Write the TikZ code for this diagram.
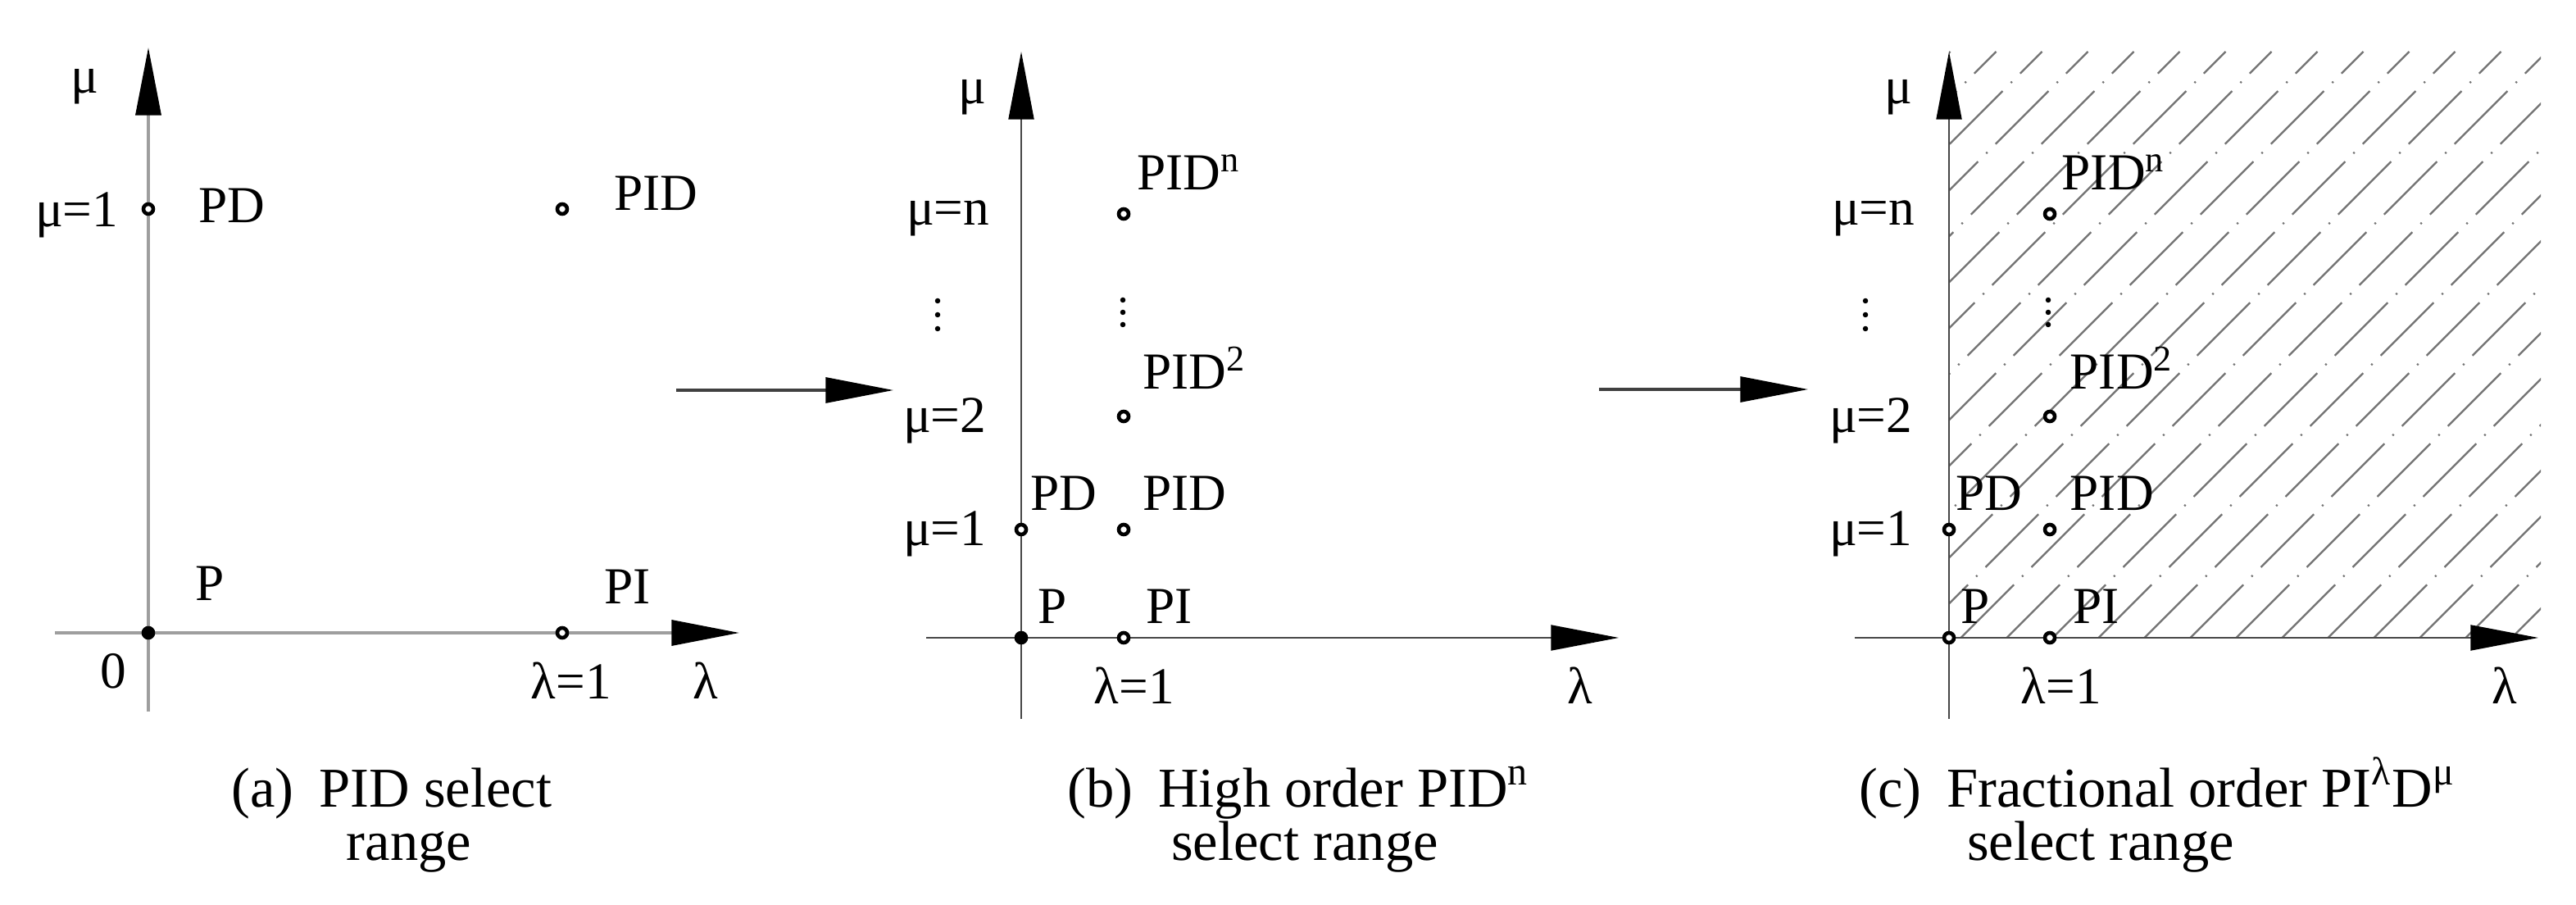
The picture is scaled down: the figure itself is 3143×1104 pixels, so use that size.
\documentclass[tikz,border=0pt]{standalone}
\usepackage{fontspec}
\setmainfont{Liberation Serif}
\usetikzlibrary{arrows.meta}
\begin{document}
\begin{tikzpicture}[x=0.01cm,y=-0.01cm,
  lbl/.style={inner sep=0pt, text=black, font=\fontsize{18}{20}\selectfont},
  captxt/.style={inner sep=0pt, text=black, font=\fontsize{19.5}{22}\selectfont},
  tipstyle/.style={-{Triangle[length=23.5pt,width=8.8pt,color=black]}},
  axA/.style={draw=black!38, line width=1pt, tipstyle},
  axB/.style={draw=black!72, line width=0.6pt, tipstyle},
  flow/.style={draw=black!75, line width=0.9pt, tipstyle},
  opt/.style={circle, draw=black, fill=white, line width=1.3pt, minimum size=0.12cm, inner sep=0pt},
  fpt/.style={opt, fill=black},
  vdot/.style={circle, fill=black, minimum size=0.065cm, inner sep=0pt},
  hatch/.style={draw=black!55, line width=0.65pt, dash pattern=on 26pt off 4pt on 0.6pt off 4pt}
]
\useasboundingbox (0,0) rectangle (3143,1104);

% ---------------- panel (a) ----------------
\coordinate (aL) at (67,772);
\coordinate (aR) at (902,772);
\coordinate (aB) at (181,868);
\coordinate (aT) at (181,58);
\draw[axA] (aL) -- (aR);
\draw[axA] (aB) -- (aT);
\node[fpt] (aP) at (181,772) {};
\node[opt] (aPD) at (181,255) {};
\node[opt] (aPID) at (686,255) {};
\node[opt] (aPI) at (686,772) {};
\node[lbl, anchor=base west] (amu) at (86,114) {μ};
\node[lbl, anchor=base east] (amu1) at (145,277) {μ=1};
\node[lbl, anchor=base west] (aPDl) at (242,272) {PD};
\node[lbl, anchor=base west] (aPIDl) at (749,257) {PID};
\node[lbl, anchor=base west] (aPl) at (238,733) {P};
\node[lbl, anchor=base west] (aPIl) at (737,737) {PI};
\node[lbl, anchor=base west] (azero) at (122,840) {0};
\node[lbl, anchor=base west] (alam1) at (647,853) {λ=1};
\node[lbl, anchor=base west] (alam) at (845,853) {λ};
\node[captxt, anchor=base] (acap1) at (478,984) {(a)\hspace{0.45em}PID select};
\node[captxt, anchor=base] (acap2) at (499,1049) {range};

% ---------------- arrow (a)->(b) ----------------
\coordinate (f1s) at (825,476);
\coordinate (f1e) at (1090,476);
\draw[flow] (f1s) -- (f1e);

% ---------------- panel (b) ----------------
\coordinate (bL) at (1130,778);
\coordinate (bR) at (1975,778);
\coordinate (bB) at (1246,877);
\coordinate (bT) at (1246,63);
\draw[axB] (bL) -- (bR);
\draw[axB] (bB) -- (bT);
\node[fpt] (bP) at (1246,778) {};
\node[opt] (bPD) at (1246,646) {};
\node[opt] (bPI) at (1371,778) {};
\node[opt] (bPID) at (1371,646) {};
\node[opt] (bPIDb) at (1371,508) {};
\node[opt] (bPIDn) at (1371,261) {};
\node[vdot] (bv1) at (1144,367) {};
\node[vdot] (bv2) at (1144,384) {};
\node[vdot] (bv3) at (1144,401) {};
\node[vdot] (bw1) at (1370,366) {};
\node[vdot] (bw2) at (1370,381) {};
\node[vdot] (bw3) at (1370,396) {};
\node[lbl, anchor=base west] (bmu) at (1169,127) {μ};
\node[lbl, anchor=base east] (bmun) at (1208,275) {μ=n};
\node[lbl, anchor=base east] (bmu2) at (1204,528) {μ=2};
\node[lbl, anchor=base east] (bmu1) at (1204,666) {μ=1};
\node[lbl, anchor=base west] (bPIDnl) at (1387,232) {PID\textsuperscript{n}};
\node[lbl, anchor=base west] (bPIDbl) at (1394,475) {PID\textsuperscript{2}};
\node[lbl, anchor=base west] (bPDl) at (1257,623) {PD};
\node[lbl, anchor=base west] (bPIDl) at (1394,623) {PID};
\node[lbl, anchor=base west] (bPl) at (1266,761) {P};
\node[lbl, anchor=base west] (bPIl) at (1398,761) {PI};
\node[lbl, anchor=base west] (blam1) at (1334,859) {λ=1};
\node[lbl, anchor=base west] (blam) at (1912,859) {λ};
\node[captxt, anchor=base] (bcap1) at (1584,984) {(b)\hspace{0.45em}High order PID\textsuperscript{n}};
\node[captxt, anchor=base] (bcap2) at (1592,1049) {select range};

% ---------------- arrow (b)->(c) ----------------
\coordinate (f2s) at (1951,475);
\coordinate (f2e) at (2206,475);
\draw[flow] (f2s) -- (f2e);

% ---------------- panel (c) ----------------
\begin{scope}
  \clip (2378,63) rectangle (3100,778);
  \foreach \c in {2442.5,2498.5,...,3900}
    \draw[hatch] ({\c-778},778) -- ({\c-63},63);
\end{scope}
\coordinate (cL) at (2263,778);
\coordinate (cR) at (3097,778);
\coordinate (cB) at (2378,877);
\coordinate (cT) at (2378,63);
\draw[axB] (cL) -- (cR);
\draw[axB] (cB) -- (cT);
\node[opt] (cP) at (2378,778) {};
\node[opt] (cPD) at (2378,646) {};
\node[opt] (cPI) at (2501,778) {};
\node[opt] (cPID) at (2501,646) {};
\node[opt] (cPIDb) at (2501,508) {};
\node[opt] (cPIDn) at (2501,261) {};
\node[vdot] (cv1) at (2276,367) {};
\node[vdot] (cv2) at (2276,384) {};
\node[vdot] (cv3) at (2276,401) {};
\node[vdot] (cw1) at (2499,366) {};
\node[vdot] (cw2) at (2499,381) {};
\node[vdot] (cw3) at (2499,396) {};
\node[lbl, anchor=base west] (cmu) at (2299,127) {μ};
\node[lbl, anchor=base east] (cmun) at (2337,275) {μ=n};
\node[lbl, anchor=base east] (cmu2) at (2334,528) {μ=2};
\node[lbl, anchor=base east] (cmu1) at (2334,666) {μ=1};
\node[lbl, anchor=base west] (cPIDnl) at (2515,232) {PID\textsuperscript{n}};
\node[lbl, anchor=base west] (cPIDbl) at (2525,475) {PID\textsuperscript{2}};
\node[lbl, anchor=base west] (cPDl) at (2386,623) {PD};
\node[lbl, anchor=base west] (cPIDl) at (2525,623) {PID};
\node[lbl, anchor=base west] (cPl) at (2392,761) {P};
\node[lbl, anchor=base west] (cPIl) at (2529,761) {PI};
\node[lbl, anchor=base west] (clam1) at (2465,859) {λ=1};
\node[lbl, anchor=base west] (clam) at (3040,859) {λ};
\node[captxt, anchor=base] (ccap1) at (2632,984) {(c)\hspace{0.45em}Fractional order PI\textsuperscript{λ}D\textsuperscript{μ}};
\node[captxt, anchor=base] (ccap2) at (2563,1049) {select range};
\end{tikzpicture}
\end{document}
